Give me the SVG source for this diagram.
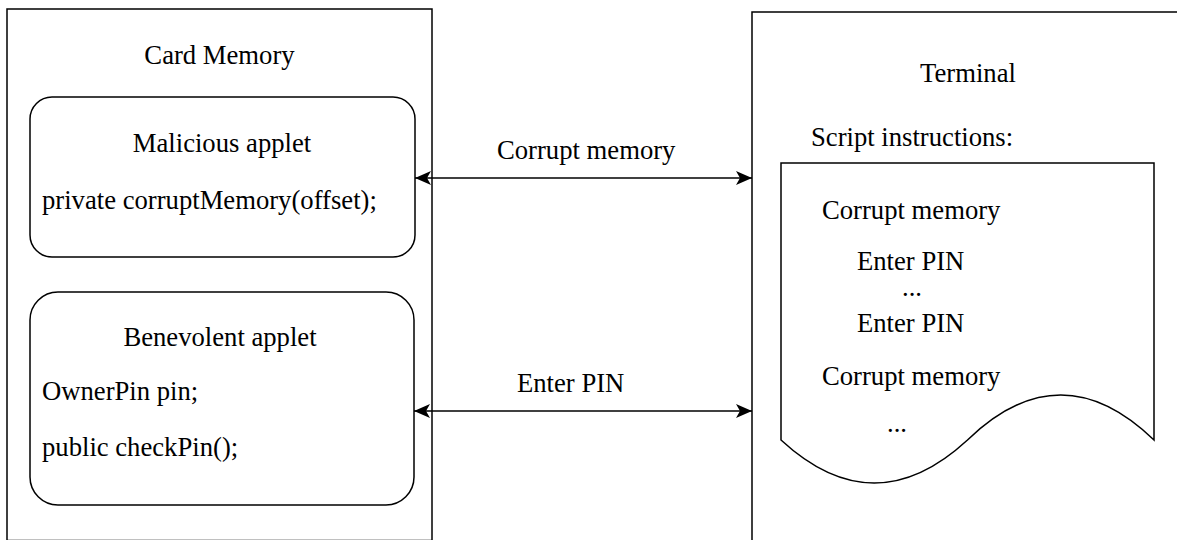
<svg xmlns="http://www.w3.org/2000/svg" width="1177" height="540" viewBox="0 0 1177 540">
<style>
.box{fill:#fff;stroke:#000;stroke-width:1.5}
.t{font-family:"Liberation Serif","Times New Roman",serif;font-size:26.67px;fill:#000}
.m{text-anchor:middle}
.conn{stroke:#000;stroke-width:1.5;fill:none}
</style>
<defs>
<marker id="arr" viewBox="0 0 16 14" refX="16" refY="7" markerWidth="16" markerHeight="14" markerUnits="userSpaceOnUse" orient="auto-start-reverse">
<path d="M0,0 L16,7 L0,14 L4,7 Z" fill="#000"/>
</marker>
</defs>
<rect width="1177" height="540" fill="#fff"/>
<g id="card-memory">
<rect class="box" x="7" y="9" width="425" height="531.5"/>
<text class="t m" x="219.5" y="64">Card Memory</text>
</g>
<g id="malicious-applet">
<rect class="box" x="30" y="97" width="385" height="160" rx="22" ry="22"/>
<text class="t m" x="222" y="152">Malicious applet</text>
<text class="t" x="42" y="209">private corruptMemory(offset);</text>
</g>
<g id="benevolent-applet">
<rect class="box" x="30" y="292" width="384" height="213" rx="28" ry="28"/>
<text class="t m" x="220" y="346">Benevolent applet</text>
<text class="t" x="42" y="400">OwnerPin pin;</text>
<text class="t" x="42" y="456">public checkPin();</text>
</g>
<g id="terminal">
<rect class="box" x="752" y="12" width="500" height="600"/>
<text class="t m" x="968" y="82">Terminal</text>
<text class="t" x="811" y="146">Script instructions:</text>
</g>
<g id="script-document">
<path class="box" d="M781,163 H1154 V440 Q1060.75,350 967.5,440 Q874.25,526 781,440 Z"/>
<text class="t" x="822" y="219">Corrupt memory</text>
<text class="t" x="857" y="270">Enter PIN</text>
<text class="t m" x="912" y="296">...</text>
<text class="t" x="857" y="332">Enter PIN</text>
<text class="t" x="822" y="385">Corrupt memory</text>
<text class="t m" x="897" y="432">...</text>
</g>
<g id="connectors">
<line class="conn" x1="415" y1="178" x2="752" y2="178" marker-start="url(#arr)" marker-end="url(#arr)"/>
<text class="t" x="497" y="159">Corrupt memory</text>
<line class="conn" x1="414" y1="411" x2="752" y2="411" marker-start="url(#arr)" marker-end="url(#arr)"/>
<text class="t" x="517" y="392">Enter PIN</text>
</g>
</svg>
